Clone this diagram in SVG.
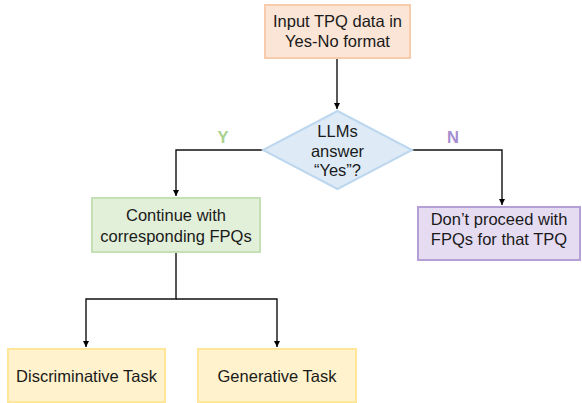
<svg xmlns="http://www.w3.org/2000/svg" width="582" height="403" viewBox="0 0 582 403">
<defs>
<marker id="arr" viewBox="0 0 10 10" refX="10" refY="5" markerWidth="6" markerHeight="6" markerUnits="userSpaceOnUse" orient="auto">
<path d="M0,0 L10,5 L0,10 z" fill="#000"/>
</marker>
<style>
text{font-family:"Liberation Sans",Arial,sans-serif;font-size:16.5px;fill:#1a1a1a;text-anchor:middle}
.c{fill:none;stroke:#111;stroke-width:1.4}
.lbl{font-weight:bold;font-size:16.5px}
</style>
</defs>
<rect width="582" height="403" fill="#fff"/>
<g id="connectors">
<path class="c" d="M337,59 V109" marker-end="url(#arr)"/>
<path class="c" d="M263,150 H176 V196" marker-end="url(#arr)"/>
<path class="c" d="M412,150 H502 V205" marker-end="url(#arr)"/>
<path class="c" d="M176,252 V299 H86 V347" marker-end="url(#arr)"/>
<path class="c" d="M176,299 H277 V347" marker-end="url(#arr)"/>
<text class="lbl" x="223" y="143" style="fill:#a9d18e">Y</text>
<text class="lbl" x="453" y="143" style="fill:#a68cd0">N</text>
</g>
<g id="input">
<rect x="265" y="5" width="145" height="53" fill="#fbe5d6" stroke="#f8cbad" stroke-width="2"/>
<text x="337.5" y="27">Input TPQ data in</text>
<text x="337.5" y="46.5">Yes-No format</text>
</g>
<g id="decision">
<polygon points="337.5,111 412,150 337.5,189 263,150" fill="#deebf7" stroke="#bdd7ee" stroke-width="2"/>
<text x="337.5" y="137">LLMs</text>
<text x="337.5" y="157">answer</text>
<text x="337.5" y="176">“Yes”?</text>
</g>
<g id="continue">
<rect x="92" y="198" width="168" height="54" fill="#e2f0d9" stroke="#c5e0b4" stroke-width="2"/>
<text x="176" y="221">Continue with</text>
<text x="176" y="241.5">corresponding FPQs</text>
</g>
<g id="stop">
<rect x="418" y="207" width="162" height="53" fill="#e6dcf2" stroke="#b4a0d6" stroke-width="2"/>
<text x="499" y="225">Don’t proceed with</text>
<text x="499" y="245">FPQs for that TPQ</text>
</g>
<g id="discriminative">
<rect x="8" y="349" width="157" height="53" fill="#fff2cc" stroke="#ffe699" stroke-width="2"/>
<text x="86.5" y="382">Discriminative Task</text>
</g>
<g id="generative">
<rect x="198" y="349" width="158" height="53" fill="#fff2cc" stroke="#ffe699" stroke-width="2"/>
<text x="277" y="382">Generative Task</text>
</g>
</svg>
